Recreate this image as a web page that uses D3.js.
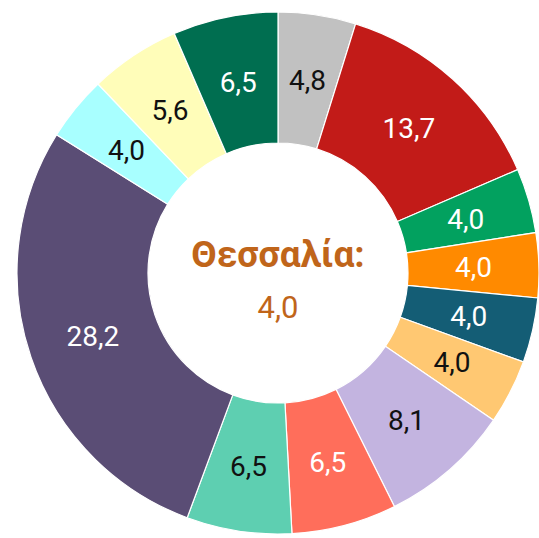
<!DOCTYPE html>
<html>
<head>
<meta charset="utf-8">
<script src="https://cdn.jsdelivr.net/npm/d3@7"></script>
<style>
  body { margin: 0; background: #fff; }
  svg { display: block; }
  text { font-family: Roboto, "Noto Sans", sans-serif; }
</style>
</head>
<body>
<svg width="539" height="538"></svg>
<script>
// slices clockwise from 12 o'clock
var values = [4.8, 13.7, 4.0, 4.0, 4.0, 4.0, 8.1, 6.5, 6.5, 28.2, 4.0, 5.6, 6.5];
var colors = ["#c1c1c1", "#c21b18", "#02a15f", "#ff8a00", "#145d75", "#ffc872", "#c3b4e0",
              "#ff6e5b", "#5ecfb1", "#5a4d75", "#a8ffff", "#fffdb9", "#006e50"];
var labelColors = ["#111", "#fff", "#fff", "#fff", "#fff", "#111", "#111",
                   "#fff", "#111", "#fff", "#111", "#111", "#fff"];
var centerName = "Θεσσαλία:";
var centerValue = 4.0;

var svg = d3.select("svg");
var cx = 278, cy = 273;
var outer = 261, inner = 130;

var locale = d3.formatLocale({decimal: ",", thousands: ".", grouping: [3], currency: ["", "€"]});
var fmt = locale.format(".1f");

var pie = d3.pie().sort(null).value(function(d){ return d; });
var arc = d3.arc().innerRadius(inner).outerRadius(outer);

var g = svg.append("g").attr("transform", "translate(" + cx + "," + cy + ")");

var slices = g.selectAll(".slice")
  .data(pie(values))
  .enter()
  .append("g")
  .attr("class", "slice");

slices.append("path")
  .attr("d", arc)
  .attr("fill", function(d, i){ return colors[i]; })
  .attr("stroke", "#fff")
  .attr("stroke-width", 1.2);

slices.append("text")
  .attr("transform", function(d){ return "translate(" + arc.centroid(d) + ")"; })
  .attr("text-anchor", "middle")
  .attr("dy", "0.36em")
  .attr("font-size", 28)
  .attr("fill", function(d, i){ return labelColors[i]; })
  .text(function(d){ return fmt(d.data); });

g.append("text")
  .attr("text-anchor", "middle")
  .attr("y", -6)
  .attr("font-family", "'DejaVu Sans', sans-serif")
  .attr("font-weight", "bold")
  .attr("font-size", 37)
  .attr("fill", "#c0651a")
  .text(centerName);

g.append("text")
  .attr("text-anchor", "middle")
  .attr("y", 45)
  .attr("font-size", 31)
  .attr("fill", "#c0651a")
  .text(fmt(centerValue));
</script>
</body>
</html>
